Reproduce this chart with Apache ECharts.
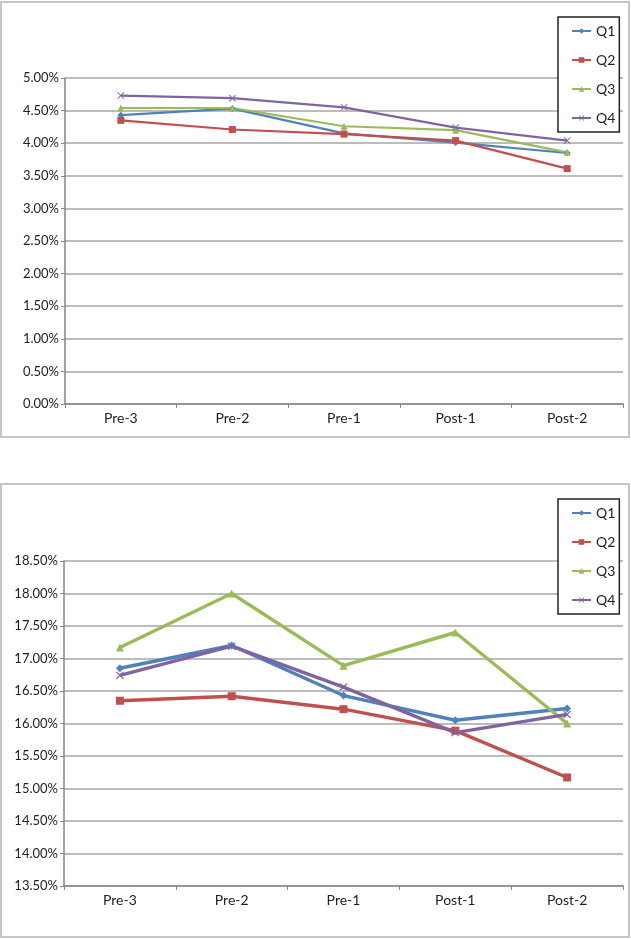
<!DOCTYPE html>
<html>
<head>
<meta charset="utf-8">
<script src="https://cdn.jsdelivr.net/npm/echarts@6.0.0/dist/echarts.min.js"></script>
<style>
  body { margin: 0; background: #fff; }
  .box {
    position: absolute;
    left: 0;
    width: 630px;
    box-sizing: border-box;
    border: 2px solid #c6c6c6;
    background: #fff;
  }
  #chartTop { top: 1px; height: 437px; }
  #chartBottom { top: 483px; height: 455px; }
</style>
</head>
<body>
<div id="chartTop" class="box"></div>
<div id="chartBottom" class="box"></div>
<script>
// categories on x axis
var categories = ["Pre-3", "Pre-2", "Pre-1", "Post-1", "Post-2"];
var seriesNames = ["Q1", "Q2", "Q3", "Q4"];

// upper chart, values in percent
var q1Top = [4.43, 4.53, 4.15, 4.01, 3.85];
var q2Top = [4.35, 4.21, 4.14, 4.04, 3.61];
var q3Top = [4.54, 4.54, 4.26, 4.20, 3.86];
var q4Top = [4.73, 4.69, 4.55, 4.24, 4.04];

// lower chart, values in percent
var q1Bottom = [16.85, 17.20, 16.43, 16.05, 16.23];
var q2Bottom = [16.35, 16.42, 16.22, 15.89, 15.17];
var q3Bottom = [17.17, 18.00, 16.89, 17.40, 16.00];
var q4Bottom = [16.74, 17.19, 16.56, 15.86, 16.14];

var colors = ["#4f81bd", "#c0504d", "#9bbb59", "#8064a2"];
// excel-ish markers: diamond, square, triangle, cross
var crossPath = "path://M0,1L1,0L5,4L9,0L10,1L6,5L10,9L9,10L5,6L1,10L0,9L4,5Z";
var symbols = ["diamond", "rect", "triangle", crossPath];

function drawChart(id, data, yMin, yMax, lineWidth, markSize, grid) {
  var myChart = echarts.init(document.getElementById(id));
  var series = [];
  for (var i = 0; i < data.length; i++) {
    series.push({
      name: seriesNames[i],
      type: "line",
      data: data[i],
      symbol: symbols[i],
      symbolSize: markSize,
      showAllSymbol: true,
      color: colors[i],
      lineStyle: { width: lineWidth, color: colors[i] },
      itemStyle: { color: colors[i] }
    });
  }
  myChart.setOption({
    animation: false,
    textStyle: { fontFamily: "Lato, 'Liberation Sans', sans-serif" },
    grid: grid,
    legend: {
      data: seriesNames,
      orient: "vertical",
      left: 556,
      top: 14,
      padding: [7, 4, 7, 13],
      itemWidth: 19,
      itemHeight: 7,
      itemGap: 15,
      backgroundColor: "#fff",
      borderColor: "#222",
      borderWidth: 1.5,
      lineStyle: { width: 2 },
      textStyle: { fontSize: 14, color: "#222" }
    },
    xAxis: {
      type: "category",
      data: categories,
      boundaryGap: true,
      axisLine: { lineStyle: { color: "#868686", width: 1.5 } },
      axisTick: { show: true, length: 4, lineStyle: { color: "#868686" } },
      axisLabel: { color: "#222", fontSize: 14, margin: 7 },
      splitLine: { show: false }
    },
    yAxis: {
      type: "value",
      min: yMin,
      max: yMax,
      interval: 0.5,
      axisLine: { show: true, lineStyle: { color: "#868686", width: 1.5 } },
      axisTick: { show: true, length: 4, lineStyle: { color: "#868686" } },
      axisLabel: {
        color: "#222",
        fontSize: 13,
        margin: 6,
        formatter: function (v) { return v.toFixed(2) + "%"; }
      },
      splitLine: { show: true, lineStyle: { color: "#a6a6a6", width: 1.5 } }
    },
    series: series
  });
  return myChart;
}

drawChart("chartTop", [q1Top, q2Top, q3Top, q4Top], 0, 5, 2.2, 7,
  { left: 63, right: 5, top: 75, bottom: 32 });
drawChart("chartBottom", [q1Bottom, q2Bottom, q3Bottom, q4Bottom], 13.5, 18.5, 3.4, 8,
  { left: 62, right: 5, top: 76, bottom: 50 });
</script>
</body>
</html>
